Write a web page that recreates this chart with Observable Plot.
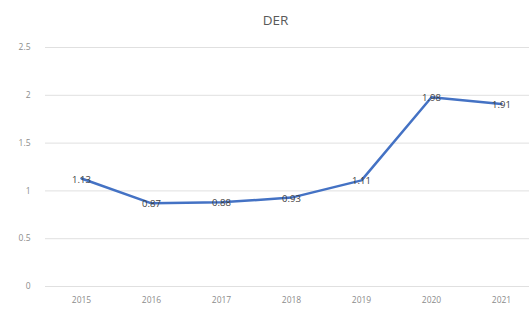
<!DOCTYPE html>
<html><head><meta charset="utf-8">
<script src="https://cdn.jsdelivr.net/npm/d3@7"></script>
<script src="https://cdn.jsdelivr.net/npm/@observablehq/plot@0.6"></script>
<style>
body{margin:0;background:#fff;font-family:"Open Sans",sans-serif;}
#title{height:34px;line-height:40px;text-align:center;font-size:13.5px;color:#595959;padding-left:22px;box-sizing:border-box;}
</style></head><body>
<div id="title">DER</div>
<div id="chart"></div>
<script>
const years = ["2015","2016","2017","2018","2019","2020","2021"];
const der = [1.13, 0.87, 0.88, 0.93, 1.11, 1.98, 1.91];
const labels = ["1.13","0.87","0.88","0.93","1.11","1.98","1.91"];
const yTicks = [0, 0.5, 1, 1.5, 2, 2.5];
const data = years.map((y,i)=>({year:y, v:der[i], label:labels[i]}));
const chart = Plot.plot({
  width: 529, height: 277,
  marginTop: 13, marginBottom: 25, marginLeft: 45, marginRight: 0,
  style: {fontFamily: "Open Sans, sans-serif", fontSize: "8.5px", color: "#7f7f7f", background: "#fff"},
  x: {type: "point", domain: years, range: [80, 502], padding: 0, label: null},
  y: {domain: [0, 2.5], ticks: yTicks, label: null},
  marks: [
    Plot.ruleY(yTicks, {stroke: "#e0e0e0", strokeWidth: 1}),
    Plot.axisY(yTicks, {tickSize: 0, tickPadding: 15, tickFormat: d => String(d), fill: "#8c8c8c"}),
    Plot.axisX(years, {tickSize: 0, tickPadding: 10, fill: "#8c8c8c"}),
    Plot.line(data, {x: "year", y: "v", stroke: "#4472c4", strokeWidth: 2.5}),
    Plot.text(data, {x: "year", y: "v", text: "label", fill: "#404040", fontSize: 9.5, dy: 1})
  ]
});
document.getElementById("chart").appendChild(chart);
</script>
</body></html>
